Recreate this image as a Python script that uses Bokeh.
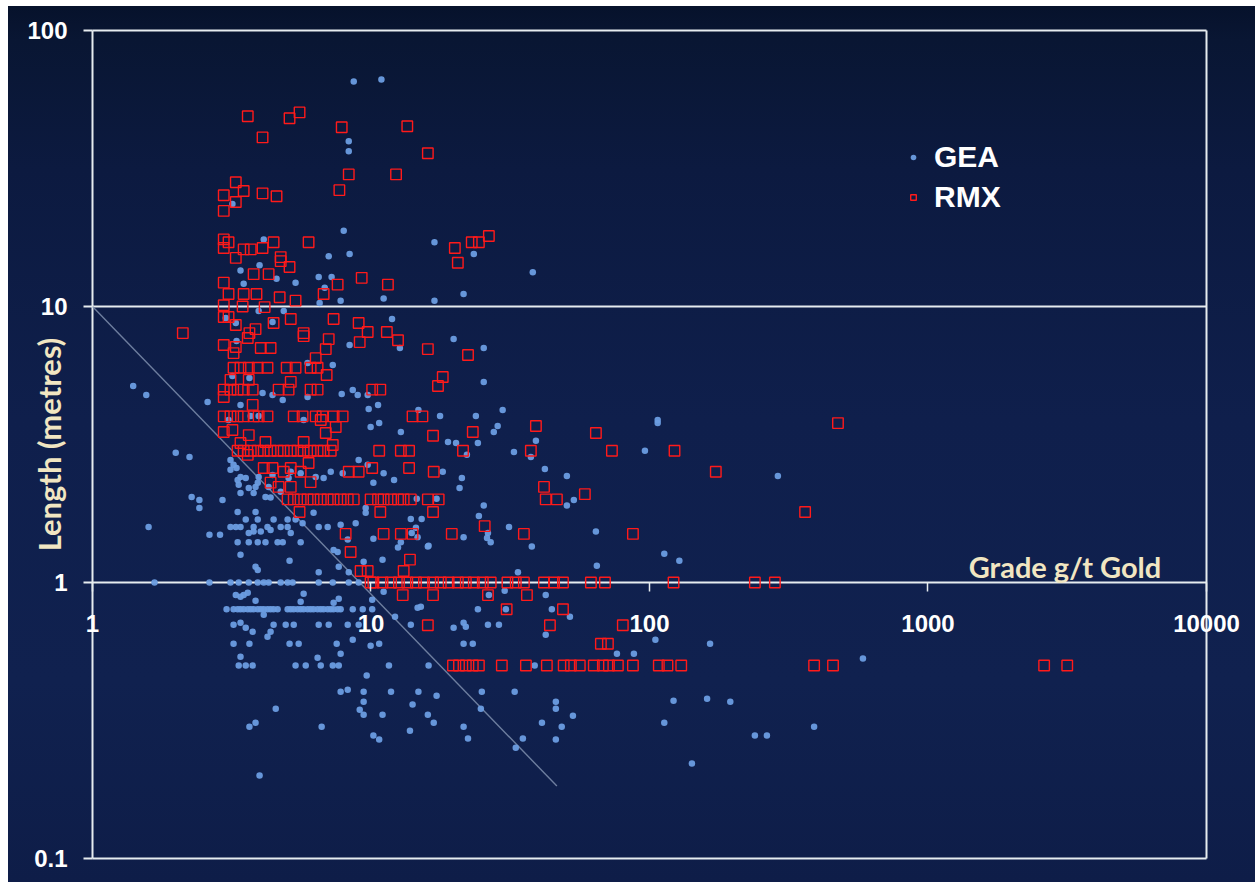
from bokeh.embed import file_html
from bokeh.models import (CustomJSTickFormatter, FixedTicker, Label, Legend,
                          LegendItem, Range1d)
from bokeh.plotting import figure
from bokeh.resources import INLINE

# ---------------------------------------------------------------- axes
X_TICKS = [1, 10, 100, 1000, 10000]
Y_TICKS = [0.1, 1, 10, 100]

# ---------------------------------------------------------------- GEA intercepts (grade g/t, length m)
GEA_GRADE = [
    8.67, 10.9, 8.32, 8.32, 3.18, 7.98, 4.12, 7.05, 8.38, 16.9, 23.4, 38.1, 3.40,
    3.98, 4.58, 5.36, 6.49, 7.22, 6.82, 3.49, 11.1, 7.78, 16.9, 21.5, 6.54,
    3.95, 4.86, 11.9, 4.43, 3.27, 3.01, 3.29, 19.8, 25.4, 8.38, 12.7, 25.4, 7.29,
    5.92, 3.18, 3.66,
    4.08, 4.43, 4.82, 3.40, 2.59, 8.60, 8.96, 7.85, 5.92, 9.73, 9.81, 10.6, 9.97,
    10.7, 12.8, 14.8, 17.7, 23.8, 29.7, 28.5, 27.6, 39.1, 18.9, 20.2, 24.2, 32.6,
    37.5, 22.1, 3.70, 3.95, 3.08, 5.73, 1.40, 1.56, 107, 107, 96.3,
    1.99, 2.23, 2.27, 2.42, 2.42, 2.93, 1.59, 2.63, 2.87, 3.32, 3.85, 3.55, 3.13,
    3.27, 3.40, 3.92, 3.64, 3.79, 3.13, 3.21, 3.13, 3.32, 3.55, 3.35, 3.92, 3.40,
    3.79, 4.36, 4.43, 5.15,
    3.32, 3.64, 3.92, 4.18, 4.62, 4.82, 4.25, 4.74, 5.02, 4.47, 5.02,
    1.67, 2.63, 3.13, 3.35, 3.64, 3.92, 4.12, 4.29, 4.74, 5.02, 5.23, 6.49, 7.29,
    8.32, 9.03,
    3.27, 3.40, 3.61, 3.85, 3.49, 3.03,
    3.21, 3.32, 3.40, 3.49, 3.61, 3.70, 3.79, 3.92, 4.02, 4.12, 4.25, 4.36, 4.47,
    4.62, 5.02, 5.15, 5.28, 5.45, 5.59, 5.73, 5.92, 6.07, 6.22, 6.43, 6.60, 6.76,
    6.99, 7.17, 7.34, 7.59, 7.78, 8.60, 9.34, 10.1,
    5.73, 7.66, 5.59, 7.34, 4.12, 11.1, 10.1, 12.2, 13.9, 14.7, 15.1, 24.2, 19.8,
    21.5, 21.9, 26.3, 28.8, 30.5, 44.6, 51.8, 42.4, 21.5, 23.2, 105, 165, 76.4,
    87.9, 16.1, 38.7,
    3.21, 3.40, 3.55, 3.76, 4.25, 4.36, 4.47, 4.94, 5.28, 6.49, 7.05, 8.25, 9.03,
    3.21, 3.66, 5.10, 5.50, 7.53, 8.60, 9.97, 10.7, 3.40, 6.43, 7.78,
    3.35, 3.55, 3.76, 5.36, 5.83, 6.60, 7.29, 7.66, 11.6, 9.65,
    7.78, 8.25, 9.41, 11.8, 14.8, 17.2, 25.0, 32.8, 9.41, 9.11, 9.41, 11.0, 14.1,
    16.0, 16.8, 4.55, 3.85, 3.66, 6.65, 13.8, 21.5, 24.8, 22.3, 10.2, 10.7, 35.1,
    33.1, 3.98, 46.1, 46.1, 53.1, 41.1, 48.4, 46.1,
    122, 161, 195, 113, 239, 264, 142, 390, 584, 289, 64.2, 64.7, 113, 128,
    42.1, 50.5, 53.5, 50.5, 37.8, 33.7, 30.2, 26.5, 42.4, 18.1, 21.2, 20.8, 14.6,
    17.2, 25.4, 24.4, 13.9, 15.2, 31.3, 14.5, 14.0, 14.7, 21.5, 26.1, 26.9, 16.1,
    9.57, 9.57, 6.22, 26.3,
    7.34, 7.59, 8.25, 9.41, 11.0, 12.8, 12.5, 10.2, 16.0, 6.49, 6.99, 7.78, 8.81,
    5.59, 5.36, 5.68, 3.79, 4.02, 4.36, 5.15, 3.40, 3.85, 3.92, 5.10, 6.49, 7.66,
    8.32,
    9.03, 5.59, 6.33, 6.76, 7.17, 7.91, 11.1, 10.2, 12.1, 3.40, 3.85, 3.95, 3.64,
    4.29, 4.18, 4.74, 5.06, 3.29, 9.73,
]
GEA_LENGTH = [
    65.4, 66.5, 39.7, 36.5, 23.5, 18.8, 17.5, 15.2, 15.5, 17.1, 15.5, 13.3, 13.5,
    14.1, 12.6, 12.2, 12.8, 12.8, 11.7, 12.1, 10.7, 10.5, 10.5, 11.1, 10.3,
    9.63, 9.63, 9.01, 8.78, 8.71, 9.08, 7.50, 7.62, 7.07, 7.25, 7.07, 5.33, 6.14,
    6.24, 5.60, 5.51,
    4.86, 4.78, 4.58, 4.40, 4.51, 4.98, 4.78, 4.82, 4.70, 4.78, 4.25, 4.40, 3.66,
    3.78, 3.51, 4.22, 4.01, 4.01, 4.22, 3.69, 3.51, 3.26, 3.23, 3.20, 3.20, 2.97,
    2.85, 2.90, 4.01, 4.01, 3.88, 3.88, 5.15, 4.78, 3.88, 3.78, 3.00,
    2.95, 2.85, 2.04, 1.99, 1.86, 1.99, 1.59, 1.49, 1.49, 1.80, 1.80, 1.69, 1.59,
    1.59, 1.59, 1.69, 1.51, 1.59, 2.78, 2.67, 2.56, 2.35, 2.39, 2.26, 2.30, 2.11,
    2.11, 2.03, 2.45, 2.52,
    1.40, 1.40, 1.40, 1.40, 1.40, 1.40, 1.59, 1.59, 1.59, 1.69, 1.69,
    1.0, 1.0, 1.0, 1.0, 1.0, 1.0, 1.0, 1.0, 1.0, 1.0, 1.0, 1.0, 1.0,
    1.0, 1.0,
    0.90, 0.888, 0.918, 0.859, 0.90, 0.80,
    0.8, 0.8, 0.8, 0.8, 0.8, 0.8, 0.8, 0.8, 0.8, 0.8, 0.8, 0.8, 0.8,
    0.8, 0.8, 0.8, 0.8, 0.8, 0.8, 0.8, 0.8, 0.8, 0.8, 0.8, 0.8, 0.8,
    0.8, 0.8, 0.8, 0.8, 0.8, 0.8, 0.8, 0.8,
    0.91, 0.873, 0.851, 0.845, 0.764, 0.925, 0.866, 0.751, 0.703, 0.81, 0.817, 0.80, 0.686,
    0.715, 0.691, 0.703, 0.703, 0.80, 0.80, 0.751, 0.647, 0.60, 0.60, 0.62, 0.60, 0.552,
    0.552, 0.50, 0.50,
    0.703, 0.715, 0.686, 0.663, 0.636, 0.663, 0.703, 0.703, 0.703, 0.703, 0.703, 0.703, 0.703,
    0.60, 0.60, 0.60, 0.60, 0.60, 0.62, 0.59, 0.60, 0.538, 0.534, 0.552,
    0.50, 0.50, 0.50, 0.50, 0.50, 0.50, 0.50, 0.50, 0.50, 0.46,
    0.402, 0.409, 0.402, 0.402, 0.402, 0.389, 0.402, 0.402, 0.37, 0.346, 0.332, 0.332, 0.361,
    0.332, 0.31, 0.349, 0.31, 0.30, 0.30, 0.29, 0.30, 0.349, 0.272, 0.279, 0.27, 0.272,
    0.252, 0.20, 0.37, 0.349, 0.329, 0.31, 0.30, 0.27,
    0.373, 0.379, 0.37, 0.31, 0.279, 0.279, 0.221, 0.30, 0.53, 2.43, 1.53, 1.15, 1.27, 1.20,
    2.58, 2.43, 1.99, 1.90, 1.35, 1.09, 0.933, 0.90, 0.90, 2.52, 2.39, 2.20, 2.01,
    2.01, 1.90, 1.74, 1.70, 1.70, 1.59, 1.58, 1.51, 1.46, 1.46, 1.45, 1.40, 1.36,
    1.86, 1.79, 1.79, 1.51,
    1.31, 1.29, 1.43, 1.19, 1.21, 1.40, 1.34, 1.44, 1.35, 1.59, 1.59, 1.62, 1.64,
    1.40, 1.69, 1.64, 1.53, 1.53, 1.55, 1.51, 1.26, 1.14, 1.11, 1.20, 1.09, 1.14,
    1.09,
    2.78, 2.49, 2.41, 2.39, 2.52, 2.49, 2.49, 2.30, 2.35, 2.41, 2.22, 2.41, 2.20,
    2.22, 2.04, 2.13, 2.39, 2.60, 2.67,
]

# ---------------------------------------------------------------- RMX intercepts (grade g/t, length m)
RMX_GRADE = [
    3.61, 5.10, 5.54, 7.85, 13.5, 4.08, 16.0, 8.32, 12.3, 3.27, 3.49, 2.96, 4.08,
    4.58, 7.70, 3.27, 2.96,
    2.96, 3.08, 2.96, 3.49, 3.70, 4.08, 4.47, 5.97, 3.27, 4.74, 4.74, 5.10, 3.79,
    4.29, 2.96, 3.08, 3.49, 3.88, 4.70, 5.36, 6.76, 7.59, 9.26, 11.5,
    20.0, 20.5, 23.0, 24.4, 26.5,
    2.96, 3.46, 4.15, 2.96, 3.08, 3.27, 4.47, 5.15, 7.34, 3.85, 3.66, 3.61, 5.73,
    5.73, 7.05, 9.03, 9.73, 11.4, 9.11, 12.5, 16.0, 2.11,
    2.96, 3.27, 4.02, 4.36, 6.88, 22.3, 3.21,
    3.21, 3.40, 3.64, 3.92, 4.25, 4.98, 5.36, 6.07, 6.43, 6.33, 6.93, 18.1, 17.4,
    3.13, 3.64, 5.15,
    2.96, 3.13, 3.32, 3.49, 3.76, 4.66, 5.06, 6.07, 6.43, 10.1, 10.8,
    2.96, 3.76,
    2.96, 3.13, 3.32, 3.49, 3.79, 3.95, 4.25, 5.28, 5.68, 6.33, 6.70, 7.34, 7.91,
    14.1, 15.3,
    6.60, 7.47, 6.88, 39.1,
    2.96, 3.18, 3.64, 16.7, 23.2, 64.2, 475,
    3.40, 4.18, 5.73, 7.29,
    3.32, 3.49, 3.70, 3.92, 4.12, 4.36, 4.62, 4.86, 5.15, 5.45, 5.73, 6.07, 6.43,
    6.76, 7.17, 10.7, 12.8, 13.7, 21.4, 37.5, 73.3, 123,
    3.61,
    4.12, 4.43, 4.86, 5.15, 5.59, 5.97, 8.32, 9.03, 10.1, 13.7, 16.8, 173,
    4.36, 4.66, 5.15, 6.07, 41.8,
    5.02, 5.28, 5.59, 5.92, 6.22, 6.60, 6.99, 7.34, 7.78, 8.25, 8.67, 9.97, 10.6,
    11.1, 11.8, 12.5, 13.1, 13.9, 16.0, 17.5, 42.4, 46.5, 58.6,
    5.54, 10.8, 16.7, 362,
    25.6,
    8.11, 11.1, 12.8, 14.1, 19.5, 35.4, 87.2,
    8.45, 13.8,
    9.18, 9.73, 13.1,
    9.97, 10.2, 11.0, 11.8, 12.6, 13.5, 14.5, 15.5, 16.7, 17.8, 19.0, 20.5, 21.9,
    23.4, 25.2, 26.9, 30.9, 33.1, 35.4, 41.8, 45.4, 48.9, 61.6, 69.2, 122, 239, 282,
    13.0, 16.7, 26.3, 36.3,
    30.7, 48.9,
    16.0, 43.9, 80.2,
    66.9, 70.9,
    19.7, 20.7, 21.9, 23.2, 24.4, 29.5, 36.0, 42.8, 49.2, 52.2, 56.2, 63.1, 68.0,
    71.5, 77.0, 87.2, 108, 116, 130, 390, 456, 2612, 3162,
]
RMX_LENGTH = [
    48.9, 48.1, 50.5, 44.6, 45.0, 41.0, 35.9, 30.1, 30.1, 28.2, 26.2, 25.3, 25.7,
    25.1, 26.4, 23.9, 22.2,
    17.5, 17.1, 16.3, 16.1, 16.1, 16.3, 17.1, 17.1, 15.0, 15.1, 14.6, 13.9, 13.1,
    13.1, 12.2, 11.1, 11.1, 11.1, 10.8, 10.5, 11.1, 12.0, 12.7, 12.0,
    16.3, 14.4, 17.1, 17.1, 18.0,
    10.1, 10.0, 9.95, 9.16, 9.16, 8.57, 8.71, 9.01, 9.01, 8.28, 8.01, 7.69, 8.01,
    7.81, 7.62, 8.71, 8.08, 8.08, 7.43, 7.55, 7.01, 8.01,
    7.25, 7.13, 7.07, 7.07, 7.01, 6.67, 6.78,
    6.0, 6.0, 6.0, 6.0, 6.0, 6.0, 6.0, 6.0, 6.0, 6.5, 5.65, 5.55, 5.15,
    5.42, 5.42, 5.33,
    5.0, 5.0, 5.0, 5.0, 5.0, 5.0, 5.0, 5.0, 5.0, 5.0, 5.0,
    4.70, 4.40,
    4.0, 4.0, 4.0, 4.0, 4.0, 4.0, 4.0, 4.0, 4.0, 4.0, 4.0, 4.0, 4.0,
    4.0, 4.0,
    3.88, 3.66, 3.48, 3.69,
    3.51, 3.57, 3.42, 3.40, 3.51, 3.48, 3.78,
    3.20, 3.23, 3.23, 3.15,
    3.0, 3.0, 3.0, 3.0, 3.0, 3.0, 3.0, 3.0, 3.0, 3.0, 3.0, 3.0, 3.0,
    3.0, 3.0, 3.0, 3.0, 3.0, 3.0, 3.0, 3.0, 3.0,
    2.90,
    2.6, 2.6, 2.52, 2.6, 2.52, 2.71, 2.52, 2.52, 2.6, 2.6, 2.52, 2.52,
    2.30, 2.22, 2.22, 2.31, 2.22,
    2.0, 2.0, 2.0, 2.0, 2.0, 2.0, 2.0, 2.0, 2.0, 2.0, 2.0, 2.0, 2.0,
    2.0, 2.0, 2.0, 2.0, 2.0, 2.0, 2.0, 2.0, 2.0, 2.09,
    1.8, 1.8, 1.8, 1.8,
    1.6,
    1.5, 1.5, 1.5, 1.5, 1.5, 1.5, 1.5,
    1.29, 1.21,
    1.1, 1.1, 1.1,
    1.0, 1.0, 1.0, 1.0, 1.0, 1.0, 1.0, 1.0, 1.0, 1.0, 1.0, 1.0, 1.0,
    1.0, 1.0, 1.0, 1.0, 1.0, 1.0, 1.0, 1.0, 1.0, 1.0, 1.0, 1.0, 1.0, 1.0,
    0.9, 0.9, 0.9, 0.9,
    0.8, 0.8,
    0.7, 0.7, 0.7,
    0.6, 0.6,
    0.5, 0.5, 0.5, 0.5, 0.5, 0.5, 0.5, 0.5, 0.5, 0.5, 0.5, 0.5, 0.5,
    0.5, 0.5, 0.5, 0.5, 0.5, 0.5, 0.5, 0.5, 0.5, 0.5,
]

# ---------------------------------------------------------------- grade x length cut-off line
CUTOFF_GRADE = [1, 46.5]
CUTOFF_LENGTH = [10, 0.183]

assert len(GEA_GRADE) == len(GEA_LENGTH)
assert len(RMX_GRADE) == len(RMX_LENGTH)

LINE_WHITE = "#e6ecef"
CREAM = "#f1e6c2"
TICK_FONT = "Liberation Sans"

# The frame fills the whole canvas so that tick labels at the box edges are not
# clipped; the visible chart box (1..10000 x 0.1..100) is drawn explicitly.
p = figure(
    width=1255, height=882,
    x_axis_type="log", y_axis_type="log",
    x_range=Range1d(0.4674, 14995), y_range=Range1d(0.08184, 128.45),
    x_axis_location="below", y_axis_location="left",
    min_border=0, min_border_left=0, min_border_right=0,
    min_border_top=0, min_border_bottom=0,
    output_backend="svg", toolbar_location=None,
)
p.styles = {
    "background": (
        "linear-gradient(to right, #ffffff 0px, #ffffff 8px, transparent 8px), "
        "linear-gradient(to bottom, #ffffff 0px, #ffffff 6px, transparent 6px), "
        "linear-gradient(to bottom, #06112a 0px, #091633 40px, #0c1a40 170px, "
        "#0f1f4c 420px, #10214f 680px, #0e1d48 882px)"
    )
}
p.background_fill_alpha = 0
p.border_fill_alpha = 0
p.outline_line_color = None
p.xgrid.visible = False
p.ygrid.visible = False

# chart box: horizontal rules at every length decade, verticals at the grade ends
n_y = len(Y_TICKS)
p.segment(x0=[X_TICKS[0]] * n_y, y0=Y_TICKS, x1=[X_TICKS[-1]] * n_y, y1=Y_TICKS,
          line_color=LINE_WHITE, line_width=2)
p.segment(x0=[X_TICKS[0], X_TICKS[-1]], y0=[Y_TICKS[0]] * 2,
          x1=[X_TICKS[0], X_TICKS[-1]], y1=[Y_TICKS[-1]] * 2,
          line_color=LINE_WHITE, line_width=2)

# length axis on the grade = 1 border
yax = p.yaxis[0]
yax.fixed_location = X_TICKS[0]
yax.bounds = (Y_TICKS[0], Y_TICKS[-1])
yax.ticker = FixedTicker(ticks=Y_TICKS)
yax.formatter = CustomJSTickFormatter(code="return tick < 1 ? tick.toFixed(1) : tick.toFixed(0);")
yax.axis_line_color = None
yax.minor_tick_line_color = None
yax.major_tick_in = 0
yax.major_tick_out = 9
yax.major_tick_line_color = LINE_WHITE
yax.major_tick_line_width = 2
yax.major_label_standoff = 16
yax.major_label_text_font = TICK_FONT
yax.major_label_text_font_style = "bold"
yax.major_label_text_font_size = "24px"
yax.major_label_text_color = "#ffffff"
yax.axis_label = "Length (metres)"
yax.axis_label_standoff = -44
yax.axis_label_text_font = "Lato"
yax.axis_label_text_font_style = "bold"
yax.axis_label_text_font_size = "31px"
yax.axis_label_text_color = CREAM

# grade axis along the length = 1 line, labels hanging below it
xax = p.xaxis[0]
xax.fixed_location = 1
xax.bounds = (X_TICKS[0], X_TICKS[-1])
xax.ticker = FixedTicker(ticks=X_TICKS)
xax.formatter = CustomJSTickFormatter(code="return tick.toFixed(0);")
xax.axis_line_color = None
xax.minor_tick_line_color = None
xax.major_tick_in = 0
xax.major_tick_out = 9
xax.major_tick_line_color = LINE_WHITE
xax.major_tick_line_width = 1.5
xax.major_label_standoff = 24
xax.major_label_text_font = TICK_FONT
xax.major_label_text_font_style = "bold"
xax.major_label_text_font_size = "24px"
xax.major_label_text_color = "#ffffff"

# cut-off line
p.line(CUTOFF_GRADE, CUTOFF_LENGTH, line_color="#7f8fae", line_width=1.4, line_alpha=0.85)

gea = p.scatter(GEA_GRADE, GEA_LENGTH, marker="circle", size=6.5,
                fill_color="#6b9de2", fill_alpha=0.95, line_color=None)
rmx = p.scatter(RMX_GRADE, RMX_LENGTH, marker="square", size=10.5,
                fill_color=None, line_color="#ff1a1a", line_width=1.4)

p.add_layout(Label(x=1400, y=1, y_offset=16, text="Grade g/t Gold",
                   text_align="left", text_baseline="alphabetic",
                   text_font="Lato", text_font_style="bold",
                   text_font_size="29px", text_color=CREAM))

legend = Legend(
    items=[LegendItem(label="GEA", renderers=[gea]),
           LegendItem(label="RMX", renderers=[rmx])],
    location=(906, 668),
    label_text_font=TICK_FONT, label_text_font_style="bold",
    label_text_font_size="30px", label_text_color="#ffffff",
    glyph_width=14, glyph_height=30, label_height=30, label_standoff=14,
    spacing=6, padding=0, margin=0,
    border_line_color=None, background_fill_alpha=0,
)
p.add_layout(legend)

with open("out.html", "w") as f:
    f.write(file_html(p, INLINE))
